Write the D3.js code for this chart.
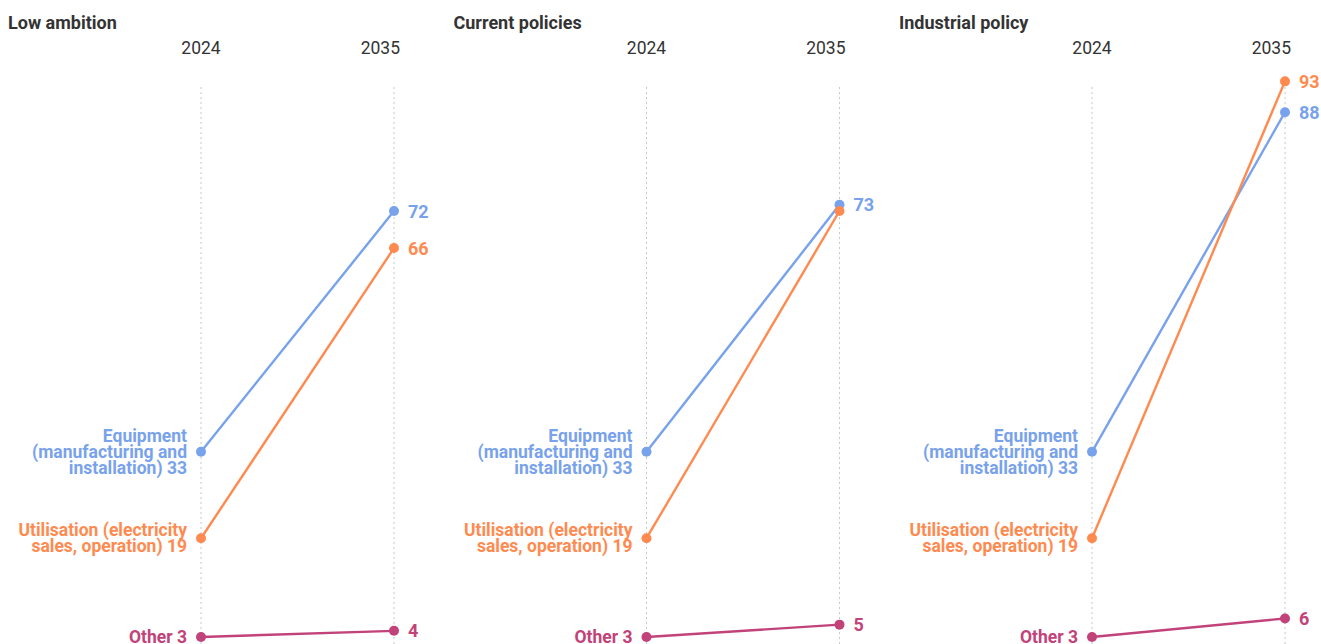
<!DOCTYPE html>
<html>
<head>
<meta charset="utf-8">
<script src="https://cdn.jsdelivr.net/npm/d3@7"></script>
<style>
  body { margin: 0; background: #fff; font-family: Roboto, sans-serif; }
</style>
</head>
<body>
<div class="chart"></div>
<script>
var scenarios = ['Low ambition', 'Current policies', 'Industrial policy'];
var years = ['2024', '2035'];
var seriesNames = [
  ['Equipment', '(manufacturing and', 'installation)'],
  ['Utilisation (electricity', 'sales, operation)'],
  ['Other']
];
var colors = ['#78a2ec', '#ff8a50', '#c2427a'];
var start2024 = [33, 19, 3];
var end2035 = [
  [72, 66, 4],   // Low ambition
  [73, 72, 5],   // Current policies
  [88, 93, 6]    // Industrial policy
];

var width = 1321, height = 644;
var panelW = 445.5;

var svg = d3.select('.chart')
    .append('svg')
    .attr('width', width)
    .attr('height', height);

var y = d3.scaleLinear()
    .domain([3, 72])
    .range([637, 211]);

var x = d3.scalePoint()
    .domain(years)
    .range([201, 394]);

scenarios.forEach(function (name, p) {
  var g = svg.append('g')
      .attr('transform', 'translate(' + (p * panelW) + ',0)');

  g.append('text')
      .attr('x', 8).attr('y', 29)
      .style('font-size', '18px').style('font-weight', 700)
      .style('fill', '#333')
      .text(name);

  years.forEach(function (yr, k) {
    g.append('text')
        .attr('x', k === 0 ? x(yr) : x(yr) + 6).attr('y', 54)
        .attr('text-anchor', k === 0 ? 'middle' : 'end')
        .style('font-size', '17.5px').style('fill', '#333')
        .text(yr);
    g.append('line')
        .attr('x1', x(yr)).attr('x2', x(yr))
        .attr('y1', 87).attr('y2', height)
        .style('stroke', '#c8c8c8')
        .style('stroke-dasharray', '2,3');
  });

  // which 2035 labels collide
  var ends = end2035[p];
  var hidden = ends.map(function (v, i) {
    return ends.some(function (w, j) {
      return j !== i && Math.abs(y(w) - y(v)) < 14 && (w > v || (w === v && j < i));
    });
  });

  seriesNames.forEach(function (lines, i) {
    var v0 = start2024[i], v1 = ends[i];
    var c = colors[i];
    g.append('line')
        .attr('x1', x('2024')).attr('y1', y(v0))
        .attr('x2', x('2035')).attr('y2', y(v1))
        .style('stroke', c).style('stroke-width', 2.4);
    g.append('circle').attr('cx', x('2024')).attr('cy', y(v0)).attr('r', 5).style('fill', c);
    g.append('circle').attr('cx', x('2035')).attr('cy', y(v1)).attr('r', 5).style('fill', c);

    var n = lines.length;
    var t = g.append('text')
        .attr('text-anchor', 'end')
        .style('font-size', '17.5px').style('font-weight', 700)
        .style('fill', c);
    lines.forEach(function (ln, k) {
      t.append('tspan')
          .attr('x', x('2024') - 14)
          .attr('y', y(v0) + 6 + (k - (n - 1) / 2) * 16)
          .text(k === n - 1 ? ln + ' ' + v0 : ln);
    });

    if (!hidden[i]) {
      g.append('text')
          .attr('x', x('2035') + 14).attr('y', y(v1) + 6.5)
          .style('font-size', '18px').style('font-weight', 700)
          .style('fill', c)
          .text(v1);
    }
  });
});
</script>
</body>
</html>
